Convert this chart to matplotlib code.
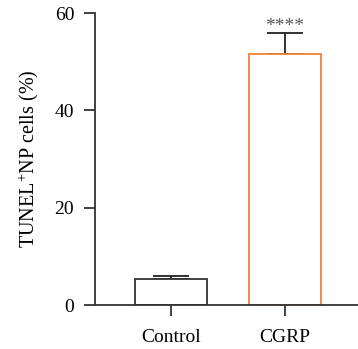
import matplotlib.pyplot as plt

plt.rcParams["font.family"] = "Liberation Serif"
plt.rcParams["mathtext.fontset"] = "custom"
plt.rcParams["mathtext.rm"] = "Liberation Serif"

groups = ["Control", "CGRP"]
means = [5.3, 51.6]
errors = [0.7, 4.3]
edge_colors = ["#333333", "#F47F3A"]
stars = "****"

fig = plt.figure(figsize=(3.58, 3.49), dpi=100)
ax = fig.add_axes([95/358, 44/349, 263/358, 292/349])

x = list(range(len(groups)))
ax.bar(x, means, width=0.63, color="white", edgecolor=edge_colors, linewidth=1.3, zorder=2)
ax.errorbar(x, means, yerr=[[0, 0], errors], fmt="none", ecolor="#222222",
            elinewidth=1.3, capsize=13, capthick=1.3, zorder=1)
ax.text(x[1], means[1] + errors[1] + 0.3, stars, ha="center", va="baseline",
        fontsize=14, color="#555555")

ax.set_xlim(-0.667, 1.64)
ax.set_ylim(0, 60)
ax.set_yticks([0, 20, 40, 60])
ax.set_xticks(x)
ax.set_xticklabels(groups)
ax.set_ylabel("TUNEL$^{+}$NP cells (%)", fontsize=14.5, labelpad=10)

for s in ["top", "right"]:
    ax.spines[s].set_visible(False)
for s in ["left", "bottom"]:
    ax.spines[s].set_linewidth(1.3)
    ax.spines[s].set_color("#333333")
ax.tick_params(length=8, width=1.3, color="#333333", labelsize=14)
ax.tick_params(axis="y", pad=7)
ax.tick_params(axis="x", pad=9)

plt.savefig("out.png", dpi=100)
plt.close()
